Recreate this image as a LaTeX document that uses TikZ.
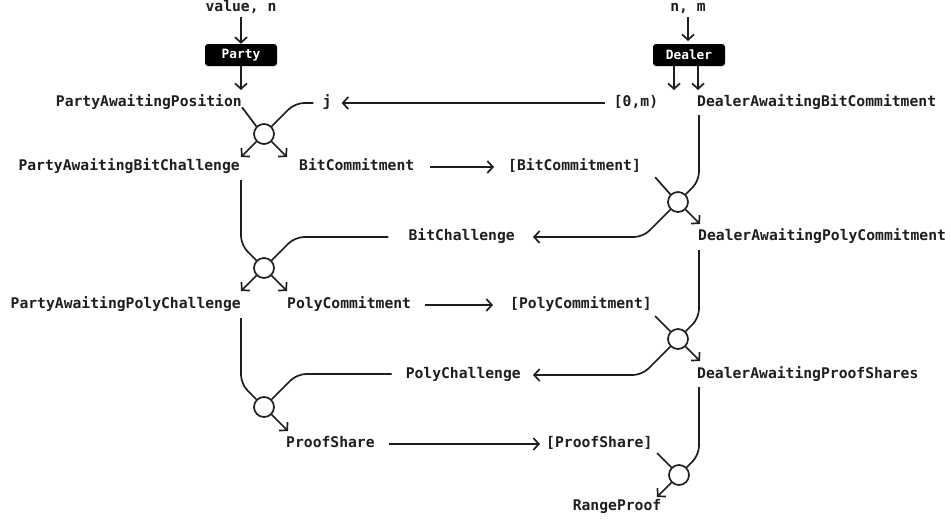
\documentclass[tikz,border=0pt]{standalone}
\usepackage{fontspec}
\setmonofont{DejaVu Sans Mono}
\usetikzlibrary{arrows.meta,calc}
\definecolor{ink}{HTML}{1E1E1E}
\begin{document}
\begin{tikzpicture}[x=1pt,y=-1pt,
  lbl/.style={font=\ttfamily\bfseries\fontsize{14.7}{16}\selectfont, text=ink, inner sep=0pt, text height=8pt, text depth=2pt},
  boxed/.style={fill=black, rounded corners=3pt, minimum width=72pt, minimum height=22pt, inner sep=0pt, text=white, font=\ttfamily\bfseries\fontsize{12.8}{14}\selectfont},
  junc/.style={circle, draw=ink, line width=1.7pt, fill=white, minimum size=20pt, inner sep=0pt},
  wire/.style={draw=ink, line width=1.7pt, rounded corners=9pt},
  arr/.style={wire, -{Straight Barb[length=5.5pt,width=12pt,line width=1.7pt]}}
]
\useasboundingbox (0,0) rectangle (951,520);

% top labels and boxes
\node[lbl] (val) at (241,8) {value, n};
\node[boxed] (party) at (241,55) {Party};
\node[lbl] (nm) at (688,8) {n, m};
\node[boxed] (dealer) at (689,55) {Dealer};

% text nodes
\node[lbl, anchor=east] (pap) at (242,103) {PartyAwaitingPosition};
\node[lbl] (j) at (327,103) {j};
\node[lbl] (zm) at (636,103) {[0,m)};
\node[lbl, anchor=west] (dabc) at (697,103) {DealerAwaitingBitCommitment};

\node[lbl, anchor=east] (pabc) at (240,167) {PartyAwaitingBitChallenge};
\node[lbl, anchor=west] (bc) at (299,167) {BitCommitment};
\node[lbl, anchor=west] (lbc) at (508,167) {[BitCommitment]};

\node[lbl, anchor=east] (bch) at (515,237) {BitChallenge};
\node[lbl, anchor=west] (dapc) at (698,237) {DealerAwaitingPolyCommitment};

\node[lbl, anchor=east] (papc) at (241,305) {PartyAwaitingPolyChallenge};
\node[lbl, anchor=west] (pc) at (287,305) {PolyCommitment};
\node[lbl, anchor=west] (lpc) at (510,305) {[PolyCommitment]};

\node[lbl, anchor=east] (pch) at (521,375) {PolyChallenge};
\node[lbl, anchor=west] (daps) at (697,375) {DealerAwaitingProofShares};

\node[lbl, anchor=west] (psh) at (286,444) {ProofShare};
\node[lbl, anchor=west] (lps) at (546,444) {[ProofShare]};

\node[lbl] (rp) at (617,507) {RangeProof};

% junctions
\node[junc] (c1) at (264,134) {};
\node[junc] (d1) at (678,202) {};
\node[junc] (c2) at (264,268) {};
\node[junc] (d2) at (678,339) {};
\node[junc] (c3) at (264,407) {};
\node[junc] (d3) at (679,475) {};

% free-end coordinates
\coordinate (a1) at (241,157);
\coordinate (a2) at (287,157);
\coordinate (a3) at (700,224);
\coordinate (a4) at (241,291);
\coordinate (a5) at (287,291);
\coordinate (a6) at (700,361);
\coordinate (a7) at (288,431);
\coordinate (a8) at (657,497);

% entry arrows
\draw[arr] (val.south |- 0,17) -- (party.north);
\draw[arr] (party.south) -- (241,90);
\draw[arr] (nm.south |- 0,17) -- (688,41);
\draw[arr] (dealer.south -| 674,0) -- (674,90);
\draw[arr] (dealer.south -| 698,0) -- (698,90);

% [0,m) -> j
\draw[arr] (zm.west) ++(-9,0) -- ($(j.east)+(10,0)$);

% junction 1 (left)
\draw[wire] (pap.south east) ++(0,-1) -- (c1.135);
\draw[wire] ($(j.west)+(-9,0)$) -- (295,103) -- (c1.45);
\draw[arr] (c1.225) -- (a1);
\draw[arr] (c1.-45) -- (a2);

% BitCommitment -> [BitCommitment]
\draw[arr] ($(bc.east)+(16,0)$) -- ($(lbc.west)+(-14,0)$);

% junction 1 (right)
\draw[wire] (lbc.south east) ++(14,5) -- (d1.135);
\draw[wire] (699,115) -- (699,181) -- (d1.45);
\draw[arr] (d1.-45) -- (a3);
\draw[arr] (d1.225) -- (643,237) -- ($(bch.east)+(18,0)$);

% junction 2 (left)
\draw[wire] (241,180) -- (241,245) -- (c2.135);
\draw[wire] ($(bch.west)+(-20,0)$) -- (295,237) -- (c2.45);
\draw[arr] (c2.225) -- (a4);
\draw[arr] (c2.-45) -- (a5);

% PolyCommitment -> [PolyCommitment]
\draw[arr] ($(pc.east)+(14,0)$) -- ($(lpc.west)+(-17,0)$);

% junction 2 (right)
\draw[wire] (655,316) -- (d2.135);
\draw[wire] (699,250) -- (699,318) -- (d2.45);
\draw[arr] (d2.-45) -- (a6);
\draw[arr] (d2.225) -- (642,375) -- ($(pch.east)+(12,0)$);

% junction 3 (left)
\draw[wire] (241,318) -- (241,384) -- (c3.135);
\draw[wire] ($(pch.west)+(-14,-1)$) -- (297,374) -- (c3.45);
\draw[arr] (c3.-45) -- (a7);

% ProofShare -> [ProofShare]
\draw[arr] ($(psh.east)+(14,0)$) -- ($(lps.west)+(-6,0)$);

% junction 3 (right)
\draw[wire] (657,453) -- (d3.135);
\draw[wire] (699,387) -- (699,455) -- (d3.45);
\draw[arr] (d3.225) -- (a8);
\end{tikzpicture}
\end{document}
